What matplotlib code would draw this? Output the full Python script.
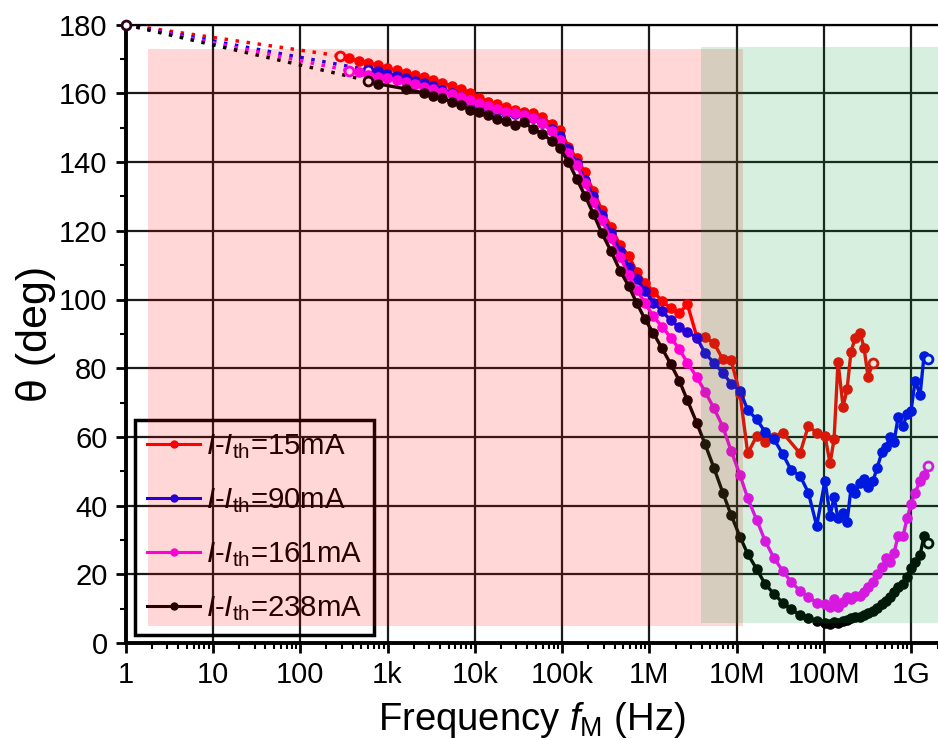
import numpy as np
import matplotlib
matplotlib.use("Agg")
import matplotlib.pyplot as plt
from matplotlib.lines import Line2D
from matplotlib.patches import Rectangle

plt.rcParams['font.family'] = ['Liberation Sans', 'DejaVu Sans']
plt.rcParams['mathtext.fontset'] = 'custom'
plt.rcParams['mathtext.rm'] = 'Liberation Sans'
plt.rcParams['mathtext.it'] = 'Liberation Sans:italic'

# ---------------- data (log10 of frequency in Hz, phase in deg) ----------------
red_logf = [2.456, 2.562, 2.674, 2.780, 2.888, 2.991, 3.105, 3.212, 3.315, 3.418, 3.525, 3.628,
            3.735, 3.839, 3.945, 4.048, 4.155, 4.251, 4.357, 4.461, 4.564, 4.670, 4.773, 4.881,
            4.976, 5.071, 5.167, 5.262, 5.357, 5.454, 5.557, 5.663, 5.763, 5.854, 5.950, 6.045,
            6.144, 6.244, 6.343, 6.434, 6.542, 6.637, 6.740, 6.840, 6.935, 7.038, 7.126, 7.229,
            7.324, 7.427, 7.527, 7.725, 7.820, 7.916, 8.011, 8.069, 8.115, 8.160, 8.218, 8.264,
            8.309, 8.355, 8.412, 8.458, 8.504, 8.561]
red_deg = [170.9, 170.2, 169.4, 168.8, 168.2, 167.3, 166.7, 165.9, 165.4, 164.7, 163.9, 163.0,
           162.2, 161.3, 160.2, 158.8, 157.5, 156.8, 155.9, 155.2, 154.7, 154.2, 153.0, 151.0,
           149.3, 144.5, 141.1, 137.0, 131.6, 126.1, 121.1, 115.9, 112.7, 108.1, 104.9, 102.3,
           99.6, 97.4, 96.0, 98.7, 89.2, 89.0, 87.3, 82.6, 82.3, 72.5, 55.2, 60.3,
           58.6, 60.1, 61.2, 55.2, 63.2, 61.2, 60.3, 52.3, 59.3, 81.9, 68.8, 73.9,
           84.8, 88.7, 90.3, 86.0, 77.5, 81.6]

blue_logf = [2.780, 2.888, 2.991, 3.105, 3.212, 3.315, 3.418, 3.525, 3.628, 3.735, 3.839, 3.945,
             4.048, 4.155, 4.251, 4.357, 4.461, 4.564, 4.670, 4.773, 4.881, 4.976, 5.071, 5.167,
             5.262, 5.357, 5.454, 5.557, 5.663, 5.763, 5.854, 5.950, 6.045, 6.144, 6.244, 6.343,
             6.434, 6.542, 6.637, 6.740, 6.840, 6.935, 7.038, 7.126, 7.229, 7.324, 7.427, 7.527,
             7.622, 7.725, 7.820, 7.916, 8.011, 8.069, 8.115, 8.160, 8.218, 8.264, 8.309, 8.355,
             8.412, 8.458, 8.504, 8.561, 8.607, 8.664, 8.710, 8.756, 8.802, 8.848, 8.905, 8.951,
             8.997, 9.043, 9.100, 9.145, 9.191]
blue_deg = [166.8, 166.4, 165.7, 165.1, 164.4, 163.6, 162.9, 162.2, 161.0, 160.0, 159.0, 157.9,
            156.6, 155.9, 155.2, 154.4, 154.0, 153.7, 152.7, 151.3, 149.6, 147.6, 143.7, 139.7,
            134.8, 130.0, 124.6, 119.3, 114.2, 109.6, 105.9, 102.6, 99.1, 96.7, 93.9, 91.9,
            90.6, 88.9, 84.4, 81.5, 78.7, 75.5, 73.4, 67.8, 65.1, 61.5, 59.3, 55.0,
            50.4, 48.7, 43.8, 34.1, 47.3, 37.0, 42.4, 36.3, 37.9, 35.3, 45.0, 43.8,
            46.5, 47.7, 45.3, 47.2, 50.9, 55.6, 57.1, 60.1, 58.6, 65.7, 63.2, 66.7,
            67.6, 76.4, 72.2, 83.6, 82.6]

mag_logf = [2.562, 2.674, 2.780, 2.888, 2.991, 3.105, 3.212, 3.315, 3.418, 3.525, 3.628, 3.735,
            3.839, 3.945, 4.048, 4.155, 4.251, 4.357, 4.461, 4.564, 4.670, 4.773, 4.881, 4.976,
            5.071, 5.167, 5.262, 5.357, 5.454, 5.557, 5.663, 5.763, 5.854, 5.950, 6.045, 6.144,
            6.244, 6.343, 6.434, 6.542, 6.637, 6.740, 6.840, 6.935, 7.038, 7.126, 7.229, 7.324,
            7.427, 7.527, 7.622, 7.725, 7.820, 7.916, 8.011, 8.069, 8.115, 8.160, 8.218, 8.264,
            8.309, 8.355, 8.412, 8.458, 8.504, 8.561, 8.607, 8.664, 8.710, 8.756, 8.802, 8.848,
            8.905, 8.951, 8.997, 9.043, 9.100, 9.145, 9.191]
mag_deg = [166.6, 166.3, 165.4, 164.9, 164.4, 163.9, 163.4, 162.7, 162.0, 161.3, 160.5, 159.7,
           159.0, 158.1, 157.1, 156.3, 155.5, 154.7, 154.2, 153.7, 152.9, 151.3, 149.0, 146.3,
           142.6, 139.2, 133.8, 128.5, 123.1, 117.8, 112.5, 107.1, 102.8, 99.0, 95.1, 92.1,
           88.9, 85.5, 81.6, 77.4, 73.2, 68.3, 63.0, 56.0, 48.9, 42.1, 35.8, 29.8,
           24.7, 21.0, 17.8, 15.2, 13.5, 11.7, 11.4, 10.6, 12.7, 10.4, 12.0, 13.5,
           12.7, 13.7, 13.7, 14.9, 16.4, 17.8, 20.1, 22.0, 24.7, 23.7, 26.3, 31.1,
           31.1, 36.3, 40.5, 43.8, 47.2, 48.9, 51.5]

blk_logf = [2.780, 2.888, 3.212, 3.418, 3.525, 3.628, 3.735, 3.839, 3.945, 4.048, 4.155, 4.251,
            4.357, 4.461, 4.564, 4.670, 4.773, 4.881, 4.976, 5.071, 5.167, 5.262, 5.357, 5.454,
            5.557, 5.663, 5.763, 5.854, 5.950, 6.045, 6.144, 6.244, 6.343, 6.434, 6.542, 6.637,
            6.740, 6.840, 6.935, 7.038, 7.126, 7.229, 7.324, 7.427, 7.527, 7.622, 7.725, 7.820,
            7.916, 8.011, 8.069, 8.115, 8.160, 8.218, 8.264, 8.309, 8.355, 8.412, 8.458, 8.504,
            8.561, 8.607, 8.664, 8.710, 8.756, 8.802, 8.848, 8.905, 8.951, 8.997, 9.043, 9.100,
            9.145, 9.191]
blk_deg = [163.7, 162.8, 161.3, 160.1, 159.2, 158.6, 157.6, 156.7, 155.2, 154.6, 153.7, 152.5,
           151.9, 150.8, 151.6, 149.6, 148.3, 146.1, 144.0, 140.1, 135.1, 130.2, 125.0, 119.4,
           114.2, 108.4, 103.9, 99.0, 94.2, 90.2, 85.8, 81.2, 76.3, 70.7, 64.1, 57.9,
           50.9, 43.8, 37.3, 30.9, 25.9, 21.5, 17.2, 14.3, 11.7, 9.8, 8.2, 7.2,
           6.5, 5.9, 5.5, 6.2, 5.9, 6.5, 6.7, 7.2, 7.5, 7.7, 8.2, 8.8,
           9.4, 10.3, 11.4, 12.3, 13.3, 14.9, 16.2, 17.2, 19.3, 21.7, 23.7, 25.6,
           31.2, 29.2]

series_labels = [r'$\mathit{I}$-$\mathit{I}_{\rm th}$=15mA',
                 r'$\mathit{I}$-$\mathit{I}_{\rm th}$=90mA',
                 r'$\mathit{I}$-$\mathit{I}_{\rm th}$=161mA',
                 r'$\mathit{I}$-$\mathit{I}_{\rm th}$=238mA']
series_colors = ['#ff0000', '#0000ff', '#ff00ff', '#000000']
start_point = (1.0, 180.0)

# shaded regions (frequency span, phase span)
pink_span = (1.8, 11.7e6, 5.0, 173.0)
green_span = (3.86e6, 2.02e9, 5.8, 173.5)

x_ticks = [1, 10, 100, 1e3, 1e4, 1e5, 1e6, 1e7, 1e8, 1e9]
x_ticklabels = ['1', '10', '100', '1k', '10k', '100k', '1M', '10M', '100M', '1G']
y_ticks = list(range(0, 181, 20))

# ---------------- figure ----------------
fig = plt.figure(figsize=(9.38, 7.40), dpi=100)
ax = fig.add_axes([125.6 / 938, 1 - 643 / 740, 1 - 125.6 / 938, (643 - 24.7) / 740])

all_series = [(red_logf, red_deg), (blue_logf, blue_deg), (mag_logf, mag_deg), (blk_logf, blk_deg)]
for (lf, dg), col in zip(all_series, series_colors):
    f = 10 ** np.array(lf)
    d = np.array(dg)
    # dotted extrapolation to the start point
    ax.plot([start_point[0], f[0]], [start_point[1], d[0]], ls=(0, (1, 2.2)), color=col, lw=2.5,
            zorder=2)
    ax.plot(f, d, '-', color=col, lw=2.4, zorder=3)
    ax.plot(f[1:-1], d[1:-1], 'o', color=col, ms=6.6, mec=col, mew=1.0, zorder=3)
    ax.plot([f[0], f[-1]], [d[0], d[-1]], 'o', color=col, ms=6.4, mfc='white', mec=col,
            mew=2.0, zorder=3)

ax.plot([start_point[0]], [start_point[1]], 'o', ms=6.4, mfc='white', mec='#300018', mew=2.0,
        zorder=3, clip_on=False)

ax.set_xscale('log')
ax.set_xlim(1, 2.02e9)
ax.set_ylim(0, 180)

# shading drawn on top of the data
ax.add_patch(Rectangle((pink_span[0], pink_span[2]), pink_span[1] - pink_span[0],
                       pink_span[3] - pink_span[2], facecolor=(1, 0, 0, 0.155), edgecolor='none',
                       zorder=6))
ax.add_patch(Rectangle((green_span[0], green_span[2]), green_span[1] - green_span[0],
                       green_span[3] - green_span[2], facecolor=(0, 0.62, 0.24, 0.16),
                       edgecolor='none', zorder=6))

ax.set_xticks(x_ticks)
ax.set_xticklabels(x_ticklabels)
ax.set_yticks(y_ticks)
ax.yaxis.set_minor_locator(matplotlib.ticker.MultipleLocator(10))
ax.xaxis.set_minor_locator(matplotlib.ticker.LogLocator(base=10, subs=np.arange(2, 10), numticks=20))
ax.xaxis.set_minor_formatter(matplotlib.ticker.NullFormatter())

ax.grid(True, which='major', color='#1a1a1a', lw=1.6)
ax.tick_params(axis='both', which='major', direction='out', length=7, width=2, labelsize=21,
               color='black', pad=6)
ax.tick_params(axis='both', which='minor', direction='out', length=4, width=1.5, color='black')
ax.tick_params(axis='x', which='both', top=False)
ax.tick_params(axis='y', which='both', right=False)

for s in ['left', 'bottom']:
    ax.spines[s].set_linewidth(2.8)
ax.spines['right'].set_visible(False)
ax.spines['top'].set_linewidth(1.6)

ax.set_xlabel(r'Frequency $\mathit{f}_{\rm M}$ (Hz)', fontsize=27.5, labelpad=8)
ax.set_ylabel('\u03b8 (deg)', fontsize=31, labelpad=2)

handles = [Line2D([], [], color=c, lw=2.2, marker='o', ms=5) for c in series_colors]
leg = ax.legend(handles, series_labels, loc='lower left', bbox_to_anchor=(0.0116, 0.0129),
                borderaxespad=0, fontsize=21.2, frameon=True, fancybox=False, framealpha=1,
                handlelength=1.8, handletextpad=0.18, labelspacing=0.85, borderpad=0.42)
leg.get_frame().set_edgecolor('black')
leg.get_frame().set_linewidth(2.5)
leg.get_frame().set_facecolor('none')
leg.set_zorder(4)

fig.savefig('out.png', dpi=100)
